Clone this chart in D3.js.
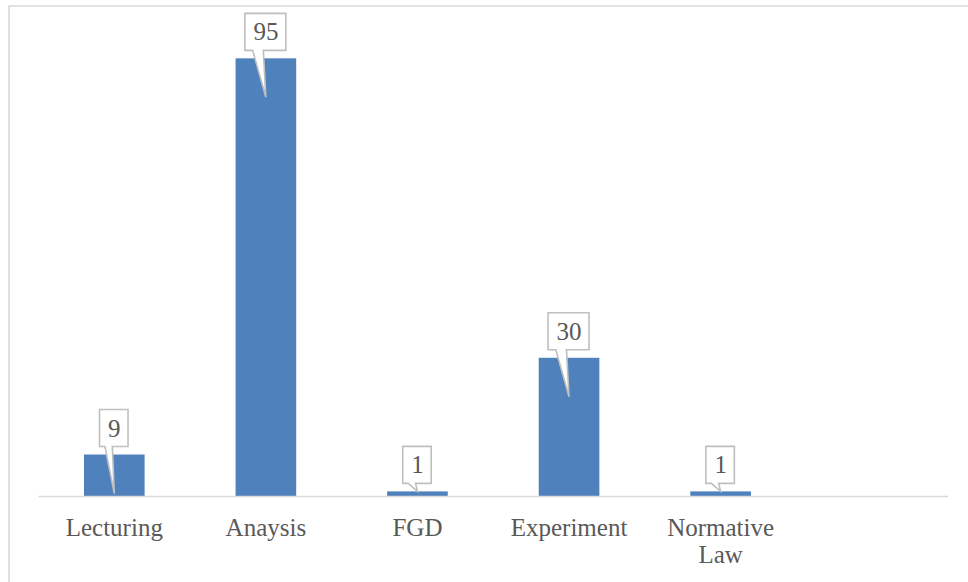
<!DOCTYPE html>
<html>
<head>
<meta charset="utf-8">
<script src="https://cdn.jsdelivr.net/npm/d3@7"></script>
<style>
  html, body { margin: 0; padding: 0; background: #ffffff; }
  svg { display: block; }
</style>
</head>
<body>
<svg id="chart" width="968" height="582"></svg>
<script>
// Teaching methods and their counts
const categories = ["Lecturing", "Anaysis", "FGD", "Experiment", "Normative Law", ""];
const values = [9, 95, 1, 30, 1, null];
const yMax = 100;

const W = 968, H = 582;
const svg = d3.select("#chart");
const FONT = "'Liberation Serif', 'Times New Roman', serif";
const TEXT = "#595959";
const GRID = "#D9D9D9";
const BAR = "#4F81BD";

// chart frame (left and top edges visible)
svg.append("path")
  .attr("d", `M9,${H} L9,6 L${W},6`)
  .attr("fill", "none")
  .attr("stroke", GRID)
  .attr("stroke-width", 1.6);

const x = d3.scaleBand()
  .domain(categories.map((c, i) => i))
  .range([38.5, 948])
  .paddingInner(0.6)
  .paddingOuter(0.3);

const baseY = 496;
const y = d3.scaleLinear().domain([0, yMax]).range([baseY, 35.3]);

const data = categories.map((c, i) => ({ i, cat: c, v: values[i] }));

// bars
svg.append("g").selectAll("rect")
  .data(data.filter(d => d.v != null))
  .join("rect")
  .attr("x", d => x(d.i))
  .attr("width", x.bandwidth())
  .attr("y", d => y(d.v))
  .attr("height", d => y(0) - y(d.v))
  .attr("fill", BAR);

// category axis line
svg.append("line")
  .attr("x1", x.range()[0]).attr("x2", x.range()[1])
  .attr("y1", baseY + 0.5).attr("y2", baseY + 0.5)
  .attr("stroke", GRID)
  .attr("stroke-width", 1.6);

// category labels, wrapped when too wide
const xAxis = d3.axisBottom(x).tickSize(0).tickFormat(i => categories[i]);
const axisG = svg.append("g")
  .attr("transform", `translate(0,${baseY})`)
  .call(xAxis);
axisG.select(".domain").remove();
axisG.selectAll("text")
  .attr("font-family", FONT)
  .attr("font-size", 25)
  .attr("fill", TEXT)
  .attr("dy", null)
  .attr("y", 40)
  .each(function () {
    const t = d3.select(this);
    const words = t.text().split(/\s+/).filter(Boolean);
    if (words.length < 2) return;
    if (this.getComputedTextLength() <= 135) return;
    t.text(null);
    words.forEach((w, k) => {
      t.append("tspan")
        .attr("x", 0)
        .attr("y", 40 + k * 26.5)
        .text(w);
    });
  });

// value callouts
const callouts = svg.append("g");
data.filter(d => d.v != null).forEach(d => {
  const cx = x(d.i) + x.bandwidth() / 2;
  const top = y(d.v);
  const barH = y(0) - top;
  const label = String(d.v);

  const g = callouts.append("g");
  const txt = g.append("text")
    .attr("x", cx)
    .attr("text-anchor", "middle")
    .attr("font-family", FONT)
    .attr("font-size", 25)
    .attr("fill", TEXT)
    .text(label);
  const tw = txt.node().getComputedTextLength();
  const bw = tw + 16, bh = 37;
  const bx = cx - bw / 2 - 0.5;
  const by = top - 8 - bh;
  const tipY = barH > 39 ? top + 39 : top;
  const p1 = bx + bw * 0.19, p2 = bx + bw * 0.45;

  g.insert("path", "text")
    .attr("d", `M${bx},${by} L${bx + bw},${by} L${bx + bw},${by + bh} L${p2},${by + bh} L${cx},${tipY} L${p1},${by + bh} L${bx},${by + bh} Z`)
    .attr("fill", "#ffffff")
    .attr("stroke", "#BFBFBF")
    .attr("stroke-width", 1.6)
    .attr("stroke-linejoin", "miter");

  txt.attr("y", by + 27);
});
</script>
</body>
</html>
